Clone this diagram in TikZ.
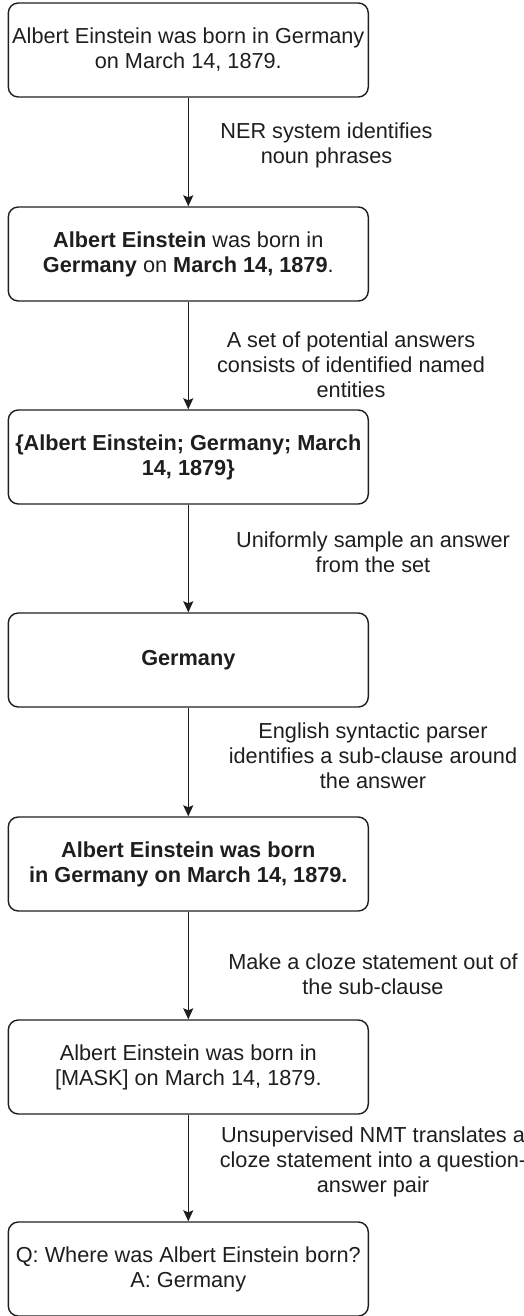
\documentclass[tikz,border=0pt]{standalone}
\usepackage{fontspec}
\setmainfont{Liberation Sans}
\usetikzlibrary{arrows.meta}
\definecolor{ink}{HTML}{1E1E1E}
\begin{document}
\begin{tikzpicture}[x=1pt,y=-1pt,
  every node/.style={text=ink,font=\fontsize{21.7}{25}\selectfont},
  stagebox/.style={draw=ink,line width=1.4pt,rounded corners=10pt,
    minimum width=360pt,minimum height=94pt,align=center,inner sep=0pt},
  edgelabel/.style={align=center,inner sep=0pt},
  flow/.style={draw=ink,line width=1.4pt,-{Stealth[length=11pt,width=10pt,inset=2pt]}}]
\useasboundingbox (0,0) rectangle (524,1316);
\clip (0,0) rectangle (524,1316);

% processing stages
\node[stagebox] (s1) at (188.3,50) {Albert Einstein was born in Germany\\on March 14, 1879.};
\node[stagebox] (s2) at (188.3,254) {\textbf{Albert Einstein} was born in\\\textbf{Germany} on \textbf{March 14, 1879}.};
\node[stagebox] (s3) at (188.3,457) {\textbf{\{Albert Einstein; Germany; March}\\\textbf{14, 1879\}}};
\node[stagebox] (s4) at (188.3,660) {\textbf{Germany}};
\node[stagebox] (s5) at (188.3,864) {\textbf{Albert Einstein was born}\\\textbf{in Germany on March 14, 1879.}};
\node[stagebox] (s6) at (188.3,1067) {Albert Einstein was born in\\{[MASK]} on March 14, 1879.};
\node[stagebox] (s7) at (188.3,1269) {Q: Where was Albert Einstein born?\\A: Germany};

% transitions
\draw[flow] (s1) -- (s2);
\draw[flow] (s2) -- (s3);
\draw[flow] (s3) -- (s4);
\draw[flow] (s4) -- (s5);
\draw[flow] (s5) -- (s6);
\draw[flow] (s6) -- (s7);

% transition descriptions
\node[edgelabel] (l1) at (326.5,145.5) {NER system identifies\\noun phrases};
\node[edgelabel] (l2) at (351,364.5) {A set of potential answers\\consists of identified named\\entities};
\node[edgelabel] (l3) at (373,552.5) {Uniformly sample an answer\\from the set};
\node[edgelabel] (l4) at (373,755.5) {English syntactic parser\\identifies a sub-clause around\\the answer};
\node[edgelabel] (l5) at (373,974.5) {Make a cloze statement out of\\the sub-clause};
\node[edgelabel] (l6) at (373,1162) {Unsupervised NMT translates a\\cloze statement into a question-\\answer pair};
\end{tikzpicture}
\end{document}
